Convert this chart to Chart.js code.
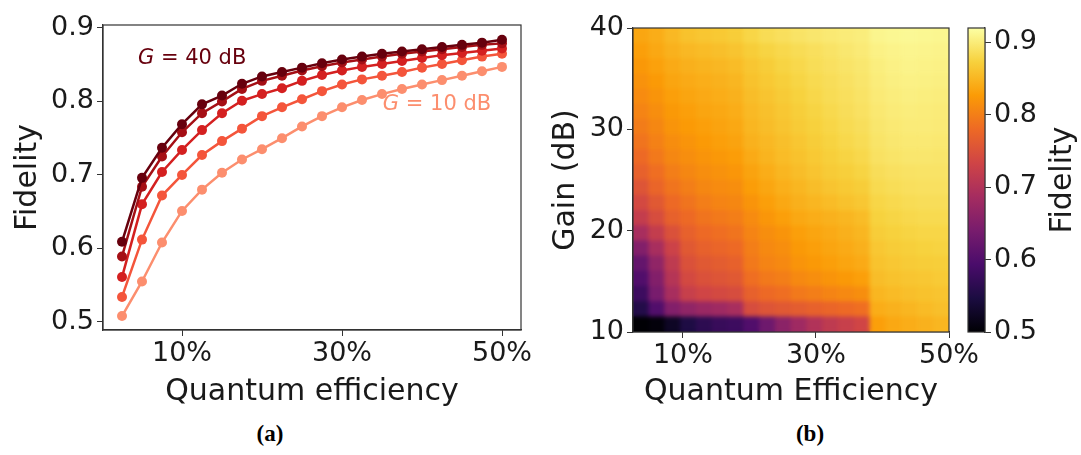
<!DOCTYPE html>
<html>
<head>
<meta charset="utf-8">
<script src="https://cdn.jsdelivr.net/npm/chart.js@4.4.1/dist/chart.umd.min.js"></script>
<style>
  html, body { margin: 0; padding: 0; background: #fff; }
  body { width: 1081px; height: 455px; position: relative; overflow: hidden; }
  .panel { position: absolute; top: 0; height: 410px; }
  .cap { position: absolute; top: 421px; font: bold 23px "Liberation Serif", serif; color: #000; transform: translateX(-50%); }
</style>
</head>
<body>
<div class="panel" style="left:0;width:540px"><canvas id="lineChart"></canvas></div>
<div class="panel" style="left:540px;width:460px"><canvas id="heatChart"></canvas></div>
<div class="panel" style="left:960px;width:121px"><canvas id="barChart"></canvas></div>
<div class="cap" style="left:270px">(a)</div>
<div class="cap" style="left:810px">(b)</div>
<script>
// quantum efficiency (%) sampled along each curve
const efficiency = [2.5, 5, 7.5, 10, 12.5, 15, 17.5, 20, 22.5, 25, 27.5, 30, 32.5, 35, 37.5, 40, 42.5, 45, 47.5, 50];

// fidelity curves, highest gain first
const fid40 = [0.609, 0.696, 0.737, 0.769, 0.796, 0.808, 0.824, 0.834, 0.840, 0.846, 0.852, 0.857, 0.861, 0.865, 0.868, 0.871, 0.874, 0.877, 0.880, 0.884];
const fid32 = [0.589, 0.684, 0.725, 0.758, 0.784, 0.800, 0.817, 0.828, 0.835, 0.842, 0.848, 0.853, 0.857, 0.861, 0.865, 0.868, 0.871, 0.874, 0.877, 0.879];
const fid25 = [0.561, 0.660, 0.704, 0.734, 0.761, 0.784, 0.801, 0.810, 0.818, 0.828, 0.836, 0.842, 0.847, 0.851, 0.855, 0.859, 0.863, 0.866, 0.869, 0.872];
const fid17 = [0.534, 0.612, 0.672, 0.700, 0.727, 0.746, 0.763, 0.780, 0.792, 0.803, 0.814, 0.823, 0.830, 0.835, 0.840, 0.846, 0.851, 0.856, 0.861, 0.865];
const fid10 = [0.508, 0.555, 0.608, 0.651, 0.680, 0.703, 0.721, 0.735, 0.750, 0.766, 0.780, 0.792, 0.802, 0.810, 0.817, 0.823, 0.829, 0.835, 0.841, 0.847];
const curveNames = ['G = 40 dB', 'G = 32.5 dB', 'G = 25 dB', 'G = 17.5 dB', 'G = 10 dB'];
const curveColors = ['#67000d', '#a50f15', '#d42020', '#f4553b', '#fc8e6e'];

// heat map: columns are efficiency bins over 2.5-50 %, rows are gain bins over 10-40 dB (bottom row first)
const heatEffRange = [2.5, 50];
const heatGainRange = [10, 40];
const fidelityGrid = [
  [0.500, 0.505, 0.525, 0.550, 0.565, 0.575, 0.580, 0.600, 0.630, 0.660, 0.680, 0.700, 0.715, 0.725, 0.735, 0.830, 0.838, 0.842, 0.846, 0.850],
  [0.555, 0.600, 0.650, 0.665, 0.675, 0.680, 0.690, 0.745, 0.755, 0.760, 0.765, 0.770, 0.775, 0.780, 0.785, 0.842, 0.846, 0.850, 0.854, 0.858],
  [0.580, 0.640, 0.690, 0.725, 0.735, 0.740, 0.745, 0.770, 0.780, 0.785, 0.795, 0.800, 0.805, 0.810, 0.815, 0.850, 0.854, 0.858, 0.860, 0.862],
  [0.600, 0.650, 0.705, 0.740, 0.750, 0.755, 0.760, 0.785, 0.795, 0.800, 0.810, 0.815, 0.820, 0.825, 0.830, 0.856, 0.860, 0.863, 0.865, 0.867],
  [0.620, 0.665, 0.715, 0.750, 0.760, 0.765, 0.770, 0.795, 0.805, 0.810, 0.820, 0.825, 0.830, 0.835, 0.840, 0.861, 0.865, 0.868, 0.870, 0.871],
  [0.650, 0.690, 0.730, 0.760, 0.770, 0.775, 0.780, 0.800, 0.810, 0.815, 0.825, 0.830, 0.835, 0.840, 0.845, 0.865, 0.869, 0.872, 0.874, 0.875],
  [0.690, 0.720, 0.750, 0.770, 0.780, 0.785, 0.790, 0.805, 0.815, 0.820, 0.830, 0.835, 0.840, 0.845, 0.850, 0.870, 0.873, 0.876, 0.878, 0.878],
  [0.720, 0.745, 0.770, 0.780, 0.790, 0.795, 0.800, 0.812, 0.822, 0.830, 0.838, 0.842, 0.846, 0.850, 0.855, 0.874, 0.877, 0.880, 0.882, 0.882],
  [0.740, 0.760, 0.780, 0.790, 0.800, 0.805, 0.808, 0.820, 0.830, 0.838, 0.845, 0.850, 0.855, 0.860, 0.865, 0.878, 0.881, 0.884, 0.886, 0.886],
  [0.755, 0.775, 0.790, 0.800, 0.808, 0.812, 0.815, 0.828, 0.836, 0.844, 0.850, 0.856, 0.862, 0.866, 0.870, 0.882, 0.885, 0.888, 0.889, 0.889],
  [0.770, 0.785, 0.800, 0.808, 0.815, 0.818, 0.822, 0.834, 0.842, 0.850, 0.856, 0.862, 0.868, 0.872, 0.876, 0.886, 0.889, 0.891, 0.892, 0.892],
  [0.780, 0.795, 0.808, 0.815, 0.820, 0.824, 0.828, 0.840, 0.848, 0.855, 0.860, 0.866, 0.872, 0.876, 0.880, 0.890, 0.893, 0.895, 0.895, 0.894],
  [0.790, 0.802, 0.814, 0.820, 0.826, 0.830, 0.834, 0.846, 0.852, 0.858, 0.864, 0.870, 0.875, 0.880, 0.884, 0.893, 0.896, 0.898, 0.898, 0.897],
  [0.798, 0.808, 0.820, 0.826, 0.830, 0.834, 0.838, 0.850, 0.856, 0.862, 0.868, 0.873, 0.878, 0.883, 0.887, 0.895, 0.898, 0.900, 0.900, 0.899],
  [0.805, 0.815, 0.825, 0.830, 0.835, 0.838, 0.842, 0.853, 0.859, 0.865, 0.871, 0.876, 0.881, 0.886, 0.890, 0.897, 0.900, 0.902, 0.901, 0.900],
  [0.812, 0.820, 0.830, 0.835, 0.839, 0.842, 0.846, 0.856, 0.862, 0.868, 0.874, 0.879, 0.884, 0.888, 0.892, 0.899, 0.902, 0.904, 0.903, 0.902],
  [0.818, 0.826, 0.835, 0.840, 0.843, 0.846, 0.850, 0.860, 0.866, 0.872, 0.877, 0.882, 0.886, 0.890, 0.894, 0.901, 0.904, 0.906, 0.905, 0.904],
  [0.824, 0.832, 0.840, 0.845, 0.848, 0.851, 0.855, 0.864, 0.870, 0.876, 0.880, 0.885, 0.889, 0.893, 0.896, 0.903, 0.906, 0.908, 0.907, 0.906],
  [0.830, 0.838, 0.846, 0.852, 0.855, 0.858, 0.862, 0.870, 0.876, 0.880, 0.884, 0.888, 0.892, 0.896, 0.899, 0.906, 0.908, 0.910, 0.909, 0.908],
  [0.836, 0.842, 0.852, 0.860, 0.864, 0.866, 0.870, 0.878, 0.884, 0.888, 0.892, 0.895, 0.898, 0.900, 0.902, 0.910, 0.912, 0.913, 0.912, 0.911]
];
const colorRange = [0.5, 0.92];

const pctTicks = [10, 30, 50];
const fidTicks = [0.5, 0.6, 0.7, 0.8, 0.9];
const gainTicks = [10, 20, 30, 40];

// inferno colour map stops
const inferno = ['#000004', '#1b0c41', '#4a0c6b', '#781c6d', '#a52c60', '#cf4446', '#ed6925', '#fb9b06', '#f7d13d', '#fcffa4'];

function hexToRgb(h) {
  return [parseInt(h.slice(1, 3), 16), parseInt(h.slice(3, 5), 16), parseInt(h.slice(5, 7), 16)];
}
function infernoColor(v) {
  let t = (v - colorRange[0]) / (colorRange[1] - colorRange[0]);
  t = Math.max(0, Math.min(1, t)) * (inferno.length - 1);
  const i = Math.min(Math.floor(t), inferno.length - 2);
  const f = t - i;
  const a = hexToRgb(inferno[i]), b = hexToRgb(inferno[i + 1]);
  const c = a.map((x, k) => Math.round(x + (b[k] - x) * f));
  return 'rgb(' + c.join(',') + ')';
}

Chart.defaults.font.family = "'DejaVu Sans', sans-serif";
Chart.defaults.color = '#1a1a1a';
Chart.defaults.animation = false;

const tickFont = { size: 27 };
const titleFont = { size: 30 };
const axisLine = '#333';

// box around the plotting area
const frame = {
  id: 'frame',
  afterDraw(chart) {
    const { ctx, chartArea: a } = chart;
    ctx.save();
    ctx.strokeStyle = axisLine;
    ctx.lineWidth = 1.2;
    ctx.strokeRect(a.left, a.top, a.right - a.left, a.bottom - a.top);
    ctx.restore();
  }
};

function setTicks(values) {
  return scale => { scale.ticks = values.map(v => ({ value: v })); };
}

// ---- (a) fidelity vs efficiency ----
const curves = [fid40, fid32, fid25, fid17, fid10];

const curveLabels = {
  id: 'curveLabels',
  afterDatasetsDraw(chart) {
    const { ctx, scales: { x, y } } = chart;
    const put = (text, xv, yv, color) => {
      const px = x.getPixelForValue(xv), py = y.getPixelForValue(yv);
      ctx.save();
      ctx.fillStyle = color;
      ctx.textBaseline = 'middle';
      ctx.font = "italic 21px 'DejaVu Sans'";
      ctx.fillText('G', px, py);
      const w = ctx.measureText('G').width;
      ctx.font = "21px 'DejaVu Sans'";
      ctx.fillText(' = ' + text, px + w, py);
      ctx.restore();
    };
    put('40 dB', 4.5, 0.858, curveColors[0]);
    put('10 dB', 35.1, 0.796, curveColors[4]);
  }
};

new Chart(document.getElementById('lineChart'), {
  type: 'line',
  data: {
    datasets: curves.map((vals, i) => ({
      label: curveNames[i],
      data: efficiency.map((e, k) => ({ x: e, y: vals[k] })),
      borderColor: curveColors[i],
      backgroundColor: curveColors[i],
      borderWidth: 2.5,
      pointRadius: 5,
      pointBorderWidth: 0,
      tension: 0
    }))
  },
  options: {
    responsive: true,
    maintainAspectRatio: false,
    layout: { padding: { left: 10, right: 19, top: 25, bottom: 0 } },
    plugins: { legend: { display: false }, tooltip: { enabled: false } },
    scales: {
      x: {
        type: 'linear', min: 0.125, max: 52.375,
        afterBuildTicks: setTicks(pctTicks),
        afterFit: s => { s.height = 80; s.paddingLeft = 0; s.paddingRight = 0; },
        ticks: { font: tickFont, maxRotation: 0, padding: 2, callback: v => v + '%' },
        grid: { drawOnChartArea: false, drawTicks: true, tickLength: 6, color: axisLine },
        border: { color: axisLine, width: 1.2 },
        title: { display: true, text: 'Quantum efficiency', font: titleFont, padding: 0 }
      },
      y: {
        type: 'linear', min: 0.489, max: 0.904,
        afterBuildTicks: setTicks(fidTicks),
        afterFit: s => { s.width = 93; },
        ticks: { font: tickFont, padding: 3, callback: v => v.toFixed(1) },
        grid: { drawOnChartArea: false, drawTicks: true, tickLength: 6, color: axisLine },
        border: { color: axisLine, width: 1.2 },
        title: { display: true, text: 'Fidelity', font: titleFont, padding: 0 }
      }
    }
  },
  plugins: [frame, curveLabels]
});

// ---- (b) fidelity over efficiency and gain ----
const nCols = fidelityGrid[0].length;
const nRows = fidelityGrid.length;
const cellW = (heatEffRange[1] - heatEffRange[0]) / nCols;
const cellH = (heatGainRange[1] - heatGainRange[0]) / nRows;

// smooth the cell edges a little, like an interpolated image
const softenCells = {
  id: 'softenCells',
  afterDatasetsDraw(chart) {
    const { ctx, chartArea: a } = chart;
    const w = Math.round(a.right - a.left), h = Math.round(a.bottom - a.top);
    const tmp = document.createElement('canvas');
    tmp.width = w; tmp.height = h;
    tmp.getContext('2d').drawImage(chart.canvas, Math.round(a.left), Math.round(a.top), w, h, 0, 0, w, h);
    ctx.save();
    ctx.beginPath();
    ctx.rect(a.left, a.top, w, h);
    ctx.clip();
    ctx.filter = 'blur(2px)';
    ctx.drawImage(tmp, Math.round(a.left), Math.round(a.top));
    ctx.restore();
  }
};

new Chart(document.getElementById('heatChart'), {
  type: 'bar',
  data: {
    datasets: fidelityGrid.map((row, r) => ({
      data: row.map((v, c) => ({
        x: heatEffRange[0] + (c + 0.5) * cellW,
        y: [heatGainRange[0] + r * cellH, heatGainRange[0] + (r + 1) * cellH]
      })),
      backgroundColor: row.map(infernoColor),
      borderWidth: 0,
      grouped: false,
      barPercentage: 1,
      categoryPercentage: 1
    }))
  },
  options: {
    responsive: true,
    maintainAspectRatio: false,
    layout: { padding: { left: 8, right: 51, top: 28, bottom: 0 } },
    plugins: { legend: { display: false }, tooltip: { enabled: false } },
    scales: {
      x: {
        type: 'linear', min: heatEffRange[0], max: heatEffRange[1], offset: false,
        afterBuildTicks: setTicks(pctTicks),
        afterFit: s => { s.height = 78; s.paddingLeft = 0; s.paddingRight = 0; },
        ticks: { font: tickFont, maxRotation: 0, padding: 2, callback: v => v + '%' },
        grid: { drawOnChartArea: false, drawTicks: true, tickLength: 6, color: axisLine, offset: false },
        border: { color: axisLine, width: 1.2 },
        title: { display: true, text: 'Quantum Efficiency', font: titleFont, padding: 0 }
      },
      y: {
        type: 'linear', min: heatGainRange[0], max: heatGainRange[1], stacked: false,
        afterBuildTicks: setTicks(gainTicks),
        afterFit: s => { s.width = 85; },
        ticks: { font: tickFont, padding: 3 },
        grid: { drawOnChartArea: false, drawTicks: true, tickLength: 6, color: axisLine },
        border: { color: axisLine, width: 1.2 },
        title: { display: true, text: 'Gain (dB)', font: titleFont, padding: 0 }
      }
    }
  },
  plugins: [softenCells, frame]
});

// ---- colour bar ----
const colorStrip = {
  id: 'colorStrip',
  beforeDatasetsDraw(chart) {
    const { ctx, chartArea: a, scales: { y } } = chart;
    const g = ctx.createLinearGradient(0, y.getPixelForValue(colorRange[0]), 0, y.getPixelForValue(colorRange[1]));
    inferno.forEach((c, i) => g.addColorStop(i / (inferno.length - 1), c));
    ctx.save();
    ctx.fillStyle = g;
    ctx.fillRect(a.left, a.top, a.right - a.left, a.bottom - a.top);
    ctx.restore();
  },
  afterDraw(chart) {
    const { ctx, chartArea: a } = chart;
    ctx.save();
    ctx.translate(chart.width - 18, (a.top + a.bottom) / 2);
    ctx.rotate(-Math.PI / 2);
    ctx.font = "30px 'DejaVu Sans'";
    ctx.fillStyle = '#1a1a1a';
    ctx.textAlign = 'center';
    ctx.textBaseline = 'middle';
    ctx.fillText('Fidelity', 0, 0);
    ctx.restore();
  }
};

new Chart(document.getElementById('barChart'), {
  type: 'scatter',
  data: { datasets: [{ data: [] }] },
  options: {
    responsive: true,
    maintainAspectRatio: false,
    layout: { padding: { left: 8, right: 0, top: 28, bottom: 78 } },
    plugins: { legend: { display: false }, tooltip: { enabled: false } },
    scales: {
      x: { display: false, min: 0, max: 1 },
      y: {
        position: 'right', min: colorRange[0], max: colorRange[1],
        afterBuildTicks: setTicks(fidTicks),
        afterFit: s => { s.width = 96; },
        ticks: { font: tickFont, padding: 3, callback: v => v.toFixed(1) },
        grid: { drawOnChartArea: false, drawTicks: true, tickLength: 6, color: axisLine },
        border: { color: axisLine, width: 1.2 }
      }
    }
  },
  plugins: [colorStrip, frame]
});
</script>
</body>
</html>
